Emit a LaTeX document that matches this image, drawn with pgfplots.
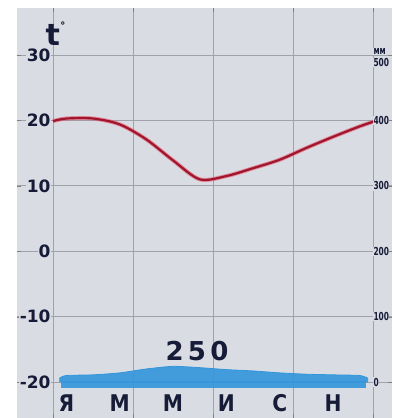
\documentclass[border=0pt]{standalone}
\usepackage{pgfplots}
\pgfplotsset{compat=1.18}
\usepackage{fontspec}
\setmainfont{DejaVu Sans}
\definecolor{bg}{RGB}{218,220,228}
\definecolor{gridc}{RGB}{160,162,170}
\definecolor{tcurve}{RGB}{160,22,45}
\definecolor{thalo}{RGB}{230,80,105}
\definecolor{pblue}{RGB}{50,150,220}
\definecolor{ink}{RGB}{22,28,55}
\begin{document}
\begin{tikzpicture}
\path[use as bounding box] (0,0) rectangle (392pt,418pt);
\fill[white] (0,0) rectangle (392pt,418pt);
\begin{axis}[at={(17pt,0pt)}, anchor=south west, scale only axis,
  width=375pt, height=410pt,
  xmin=-1.35, xmax=12.71, ymin=-25.5, ymax=37.2,
  axis background/.style={fill=bg},
  axis line style={draw=none},
  xtick={0,3,6,9,12}, ytick={-20,-10,...,30},
  xticklabels={}, yticklabels={},
  grid=major, major grid style={gridc, line width=0.8pt},
  clip=false]
% temperature
\addplot[thalo, line width=4pt, smooth, tension=0.5, opacity=0.6] coordinates {
 (0,19.9) (0.5,20.3) (1.5,20.3) (2.5,19.4) (3.5,17.1) (4.5,13.9) (5.5,11.0)
 (6.5,11.5) (7.5,12.7) (8.5,14.0) (9.5,15.8) (10.5,17.5) (11.5,19.1) (12,19.8)};
\addplot[tcurve, line width=2.2pt, smooth, tension=0.5] coordinates {
 (0,19.9) (0.5,20.3) (1.5,20.3) (2.5,19.4) (3.5,17.1) (4.5,13.9) (5.5,11.0)
 (6.5,11.5) (7.5,12.7) (8.5,14.0) (9.5,15.8) (10.5,17.5) (11.5,19.1) (12,19.8)};
% left tick labels
\begin{scope}[every node/.style={text=ink, font=\fontsize{17}{17}\selectfont\bfseries, fill=bg, inner sep=1pt, anchor=east}]
\node at (axis cs:-0.05,30) {30};
\node at (axis cs:-0.05,20) {20};
\node at (axis cs:-0.05,10) {10};
\node at (axis cs:-0.05,0) {0};
\node at (axis cs:-0.05,-10) {-10};
\node at (axis cs:-0.05,-20) {-20};
\end{scope}
% right tick labels
\begin{scope}[every node/.style={text=ink, font=\fontsize{11}{11}\selectfont\bfseries, fill=bg, inner sep=0.5pt, anchor=west, xscale=0.68}]
\node at (axis cs:12.0,28.9) {500};
\node[anchor=south west] at (axis cs:12.0,30.0) {мм};
\node at (axis cs:12.0,20) {400};
\node at (axis cs:12.0,10) {300};
\node at (axis cs:12.0,0) {200};
\node at (axis cs:12.0,-10) {100};
\node at (axis cs:12.0,-20) {0};
\end{scope}
% months
\begin{scope}[every node/.style={text=ink, font=\fontsize{23}{23}\selectfont\bfseries, xscale=0.88, inner sep=1pt}]
\node at (axis cs:0.5,-23.2) {Я};
\node at (axis cs:2.5,-23.2) {М};
\node at (axis cs:4.5,-23.2) {М};
\node at (axis cs:6.5,-23.2) {И};
\node at (axis cs:8.5,-23.2) {С};
\node at (axis cs:10.5,-23.2) {Н};
\end{scope}
\node[text=ink, font=\fontsize{26}{26}\selectfont\bfseries] at (axis cs:5.4,-15.2) {2\,5\,0};
\node[text=ink, font=\fontsize{30}{30}\selectfont\bfseries] at (axis cs:0.1,33.3) {t\raisebox{0.8ex}{\fontsize{12}{12}\selectfont ˚}};
\end{axis}
% precipitation axis (mm), same geometry
\begin{axis}[at={(17pt,0pt)}, anchor=south west, scale only axis,
  width=375pt, height=410pt,
  xmin=-1.35, xmax=12.71, ymin=-55, ymax=572,
  axis lines=none, clip=false]
\addplot[draw=pblue, line width=0.8pt, fill=pblue, fill opacity=0.9, smooth, tension=0.4]
  table[x=m, y=mm] {
  m mm
  0.25 6
  0.5 10
  1.5 11
  2.5 14
  3.5 20
  4.5 24
  5.5 22
  6.5 19
  7.5 17
  8.5 14
  9.5 12
  10.5 11
  11.5 10
  11.8 6
} \closedcycle;
\addplot[draw=pblue, line width=7pt, opacity=0.9] coordinates {(0.3,-4) (11.75,-4)};
\end{axis}
\end{tikzpicture}
\end{document}
